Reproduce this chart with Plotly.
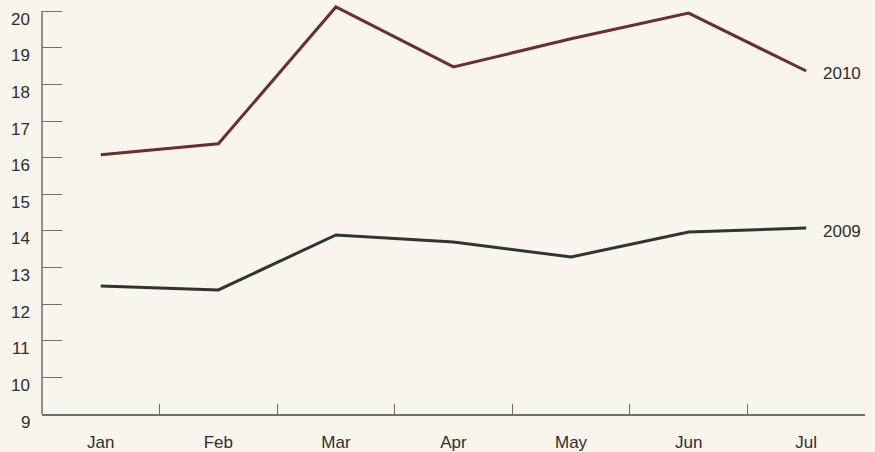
import plotly.graph_objects as go

months = ["Jan", "Feb", "Mar", "Apr", "May", "Jun", "Jul"]
values_2010 = [16.08, 16.38, 20.12, 18.48, 19.25, 19.95, 18.37]
values_2009 = [12.5, 12.39, 13.89, 13.7, 13.29, 13.97, 14.08]
y_ticks = list(range(9, 21))

bg = "#f7f5ec"
axis_col = "#6e6e6e"
text_col = "#2e2e2e"
c2010 = "#6b2f2b"
c2009 = "#2e3634"
fs = 17

fig = go.Figure()
fig.add_trace(go.Scatter(x=months, y=values_2010, mode="lines",
                         line=dict(color=c2010, width=3), cliponaxis=False,
                         name="2010", showlegend=False, hoverinfo="x+y"))
fig.add_trace(go.Scatter(x=months, y=values_2009, mode="lines",
                         line=dict(color=c2009, width=3), cliponaxis=False,
                         name="2009", showlegend=False, hoverinfo="x+y"))

fig.add_annotation(x=months[-1], y=values_2010[-1], text="2010", showarrow=False,
                   xanchor="left", xshift=15, yshift=-3,
                   font=dict(size=fs, color=text_col))
fig.add_annotation(x=months[-1], y=values_2009[-1], text="2009", showarrow=False,
                   xanchor="left", xshift=15, yshift=-3,
                   font=dict(size=fs, color=text_col))

# y tick labels (drawn slightly below their ticks, as in the reference)
for v in y_ticks:
    fig.add_annotation(xref="paper", x=0, xanchor="right", xshift=-10,
                       y=v, yshift=-8, text=str(v), showarrow=False,
                       font=dict(size=fs, color=text_col))

# y axis line (only up to 20)
fig.add_shape(type="line", xref="paper", yref="y", x0=0, x1=0, y0=9, y1=20,
              line=dict(color=axis_col, width=1.5))

fig.update_layout(
    width=875, height=452,
    margin=dict(l=42, r=10, t=4, b=38),
    paper_bgcolor=bg, plot_bgcolor=bg,
    font=dict(family="Liberation Sans, Arial, sans-serif", size=fs, color=text_col),
    xaxis=dict(type="category", range=[-0.5, 6.5], tickson="boundaries",
               ticks="inside", ticklen=10, tickcolor=axis_col, tickwidth=1.2,
               showline=True, linecolor=axis_col, linewidth=1.5,
               showgrid=False, zeroline=False, ticklabelstandoff=12,
               automargin=False,
               tickfont=dict(size=fs, color=text_col)),
    yaxis=dict(range=[9, 20.2], tickvals=y_ticks, showticklabels=False,
               ticks="inside", ticklen=20, tickcolor=axis_col, tickwidth=1.2,
               showline=False, showgrid=False, zeroline=False,
               automargin=False),
)

fig.write_html("out.html", config={"displayModeBar": False},
               post_script="document.body.style.margin='0';document.body.style.background='%s';" % bg)
